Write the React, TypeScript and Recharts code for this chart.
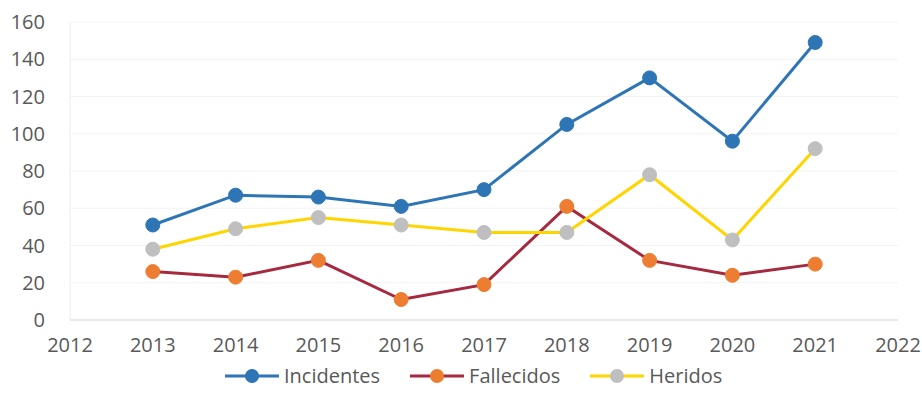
import React from "react";
import { LineChart, Line, XAxis, YAxis, CartesianGrid } from "recharts";

const years = [2013, 2014, 2015, 2016, 2017, 2018, 2019, 2020, 2021];
const incidentes = [51, 67, 66, 61, 70, 105, 130, 96, 149];
const fallecidos = [26, 23, 32, 11, 19, 61, 32, 24, 30];
const heridos = [38, 49, 55, 51, 47, 47, 78, 43, 92];
const xTicks = [2012, 2013, 2014, 2015, 2016, 2017, 2018, 2019, 2020, 2021, 2022];
const yTicks = [0, 20, 40, 60, 80, 100, 120, 140, 160];

const data = years.map((y, i) => ({
  year: y,
  Incidentes: incidentes[i],
  Fallecidos: fallecidos[i],
  Heridos: heridos[i],
}));

const FONT = "'Open Sans', 'Noto Sans', sans-serif";
const TEXT = "#595959";

const legendItems = [
  { name: "Incidentes", line: "#2E75B6", dot: "#2E75B6" },
  { name: "Fallecidos", line: "#A52A40", dot: "#ED7D31" },
  { name: "Heridos", line: "#FFD500", dot: "#BFBFBF" },
];

export default function App() {
  return (
    <div style={{ position: "absolute", left: 0, top: 0, width: 922, height: 412, background: "#fff", fontFamily: FONT }}>
      <LineChart width={922} height={412} data={data} margin={{ top: 22, right: 24, bottom: 62, left: 0 }}>
        <CartesianGrid vertical={false} stroke="#f3f3f3" />
        <XAxis
          dataKey="year"
          type="number"
          domain={[2012, 2022]}
          ticks={xTicks}
          interval={0}
          tickLine={false}
          tickSize={0}
          tickMargin={18}
          height={30}
          stroke="#d9d9d9"
          tick={{ fill: TEXT, fontSize: 20, fontFamily: FONT }}
        />
        <YAxis
          domain={[0, 160]}
          ticks={yTicks}
          interval={0}
          width={70}
          tickLine={false}
          tickSize={0}
          tickMargin={25}
          stroke="#ececec"
          tick={{ fill: TEXT, fontSize: 20, fontFamily: FONT }}
        />
        <Line
          dataKey="Incidentes"
          stroke="#2E75B6"
          strokeWidth={3}
          dot={{ r: 7, fill: "#2E75B6", stroke: "#2E75B6", strokeWidth: 1 }}
          isAnimationActive={false}
        />
        <Line
          dataKey="Fallecidos"
          stroke="#A52A40"
          strokeWidth={3}
          dot={{ r: 7, fill: "#ED7D31", stroke: "#ED7D31", strokeWidth: 1 }}
          isAnimationActive={false}
        />
        <Line
          dataKey="Heridos"
          stroke="#FFD500"
          strokeWidth={3}
          dot={{ r: 7, fill: "#BFBFBF", stroke: "#BFBFBF", strokeWidth: 1 }}
          isAnimationActive={false}
        />
      </LineChart>
      <div
        style={{
          position: "absolute",
          top: 362,
          left: 225,
          display: "flex",
          gap: 30,
          fontSize: 20,
          lineHeight: "28px",
          color: TEXT,
          fontFamily: FONT,
          whiteSpace: "nowrap",
        }}
      >
        {legendItems.map((it) => (
          <div key={it.name} style={{ display: "flex", alignItems: "center" }}>
            <svg width={54} height={20} style={{ marginRight: 5 }}>
              <line x1={0} y1={10} x2={54} y2={10} stroke={it.line} strokeWidth={3} />
              <circle cx={27} cy={10} r={7} fill={it.dot} />
            </svg>
            <span>{it.name}</span>
          </div>
        ))}
      </div>
    </div>
  );
}
